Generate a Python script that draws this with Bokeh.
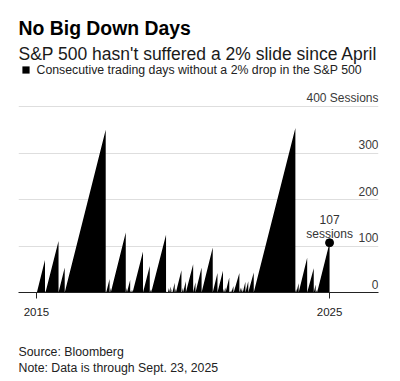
import pandas as pd
from bokeh.plotting import figure
from bokeh.layouts import column
from bokeh.models import (ColumnDataSource, Range1d, FixedTicker, DatetimeTickFormatter,
                          Label, Legend, LegendItem)
from bokeh.embed import file_html
from bokeh.resources import INLINE
from bokeh.core.properties import value

# ---- data: streaks of trading days without a 2% drop (start, end, length at end) ----
streak_start = [
    "2015-09-28", "2016-01-07", "2016-01-13", "2016-06-24", "2016-09-09",
    "2018-02-05", "2018-02-08", "2018-03-23", "2018-04-06", "2018-10-10",
    "2018-10-24", "2018-12-04", "2018-12-07", "2018-12-17", "2018-12-24",
    "2019-01-03", "2019-05-13", "2019-08-05", "2019-08-14", "2019-08-23",
    "2020-02-27", "2020-03-05", "2020-03-18", "2020-04-01", "2020-04-21",
    "2020-05-13", "2020-06-11", "2020-06-26", "2020-09-08", "2020-09-23",
    "2020-10-28", "2021-01-27", "2021-02-25", "2021-05-12", "2021-09-28",
    "2021-11-26", "2022-02-03", "2022-02-17", "2022-03-07", "2022-04-22",
    "2022-04-29", "2022-05-09", "2022-05-18", "2022-06-16", "2022-08-26",
    "2022-09-13", "2022-09-29", "2022-10-07", "2022-11-09", "2022-12-15",
    "2023-02-21", "2024-07-24", "2024-08-05", "2024-09-03", "2024-12-18",
    "2025-03-10", "2025-04-04", "2025-04-10", "2025-04-21",
]
streak_end = [
    "2016-01-07", "2016-01-13", "2016-06-24", "2016-09-09", "2018-02-02",
    "2018-02-08", "2018-03-22", "2018-04-06", "2018-10-10", "2018-10-24",
    "2018-12-04", "2018-12-07", "2018-12-17", "2018-12-24", "2019-01-03",
    "2019-05-13", "2019-08-05", "2019-08-14", "2019-08-23", "2020-02-24",
    "2020-03-03", "2020-03-09", "2020-04-01", "2020-04-21", "2020-05-01",
    "2020-06-11", "2020-06-24", "2020-09-03", "2020-09-23", "2020-10-28",
    "2021-01-27", "2021-02-25", "2021-05-12", "2021-09-28", "2021-11-26",
    "2022-02-03", "2022-02-17", "2022-03-07", "2022-04-22", "2022-04-26",
    "2022-05-05", "2022-05-17", "2022-06-13", "2022-08-26", "2022-09-13",
    "2022-09-29", "2022-10-07", "2022-11-09", "2022-12-15", "2023-02-21",
    "2024-07-24", "2024-08-05", "2024-09-03", "2024-12-18", "2025-03-10",
    "2025-04-03", "2025-04-10", "2025-04-21", "2025-09-23",
]
streak_peak = [
    70, 4, 111, 54, 350,
    3, 29, 10, 129, 10,
    27, 3, 6, 4, 6,
    88, 57, 7, 7, 124,
    3, 2, 10, 13, 8,
    21, 9, 48, 11, 24,
    61, 22, 54, 97, 42,
    47, 9, 11, 32, 3,
    4, 6, 14, 42, 11,
    11, 6, 23, 24, 43,
    354, 8, 20, 75, 52,
    17, 4, 7, 107,
]

grid_values = [0, 100, 200, 300, 400]
grid_labels = ["0", "100", "200", "300", "400 Sessions"]
year_ticks = ["2015-09-23", "2025-09-23"]

FONT = "Liberation Sans"

# sawtooth vertices
xs, ys = [], []
for s, e, v in zip(streak_start, streak_end, streak_peak):
    xs += [s, e, e]
    ys += [0, v, 0]
xs, ys = xs[:-1], ys[:-1]
src = ColumnDataSource(dict(x=pd.to_datetime(xs), y=ys))

x_start = pd.Timestamp("2015-02-11")
x_end = pd.Timestamp("2027-05-26")

p = figure(width=400, height=330, x_axis_type="datetime", y_axis_location=None,
           x_range=Range1d(x_start, x_end), y_range=Range1d(0, 627.96),
           output_backend="svg", toolbar_location=None,
           min_border_left=18, min_border_right=22, min_border_top=0, min_border_bottom=38)
p.outline_line_color = None
p.background_fill_color = "white"
p.border_fill_color = "white"

p.xgrid.visible = False
p.ygrid.ticker = FixedTicker(ticks=grid_values)
p.ygrid.grid_line_color = "#dedede"
p.ygrid.grid_line_width = 1

area = p.varea(x="x", y1=0, y2="y", source=src, fill_color="black")

# x axis
p.xaxis.ticker = FixedTicker(ticks=[pd.Timestamp(t).value / 1e6 for t in year_ticks])
fmt = "%Y"
p.xaxis.formatter = DatetimeTickFormatter(years=fmt, months=fmt, days=fmt, hours=fmt,
                                          hourmin=fmt, minutes=fmt, minsec=fmt, seconds=fmt,
                                          milliseconds=fmt, microseconds=fmt)
p.xaxis.axis_line_color = "#222222"
p.xaxis.major_tick_line_color = "#222222"
p.xaxis.major_tick_out = 6
p.xaxis.major_tick_in = 0
p.xaxis.minor_tick_line_color = None
p.xaxis.major_label_standoff = 9
p.xaxis.major_label_text_font = FONT
p.xaxis.major_label_text_font_size = "11.5px"
p.xaxis.major_label_text_color = "#222222"

# y tick labels drawn inside the plot, above grid lines
p.text(x=[x_end] * len(grid_values), y=grid_values, text=grid_labels,
       text_align="right", text_baseline="alphabetic", y_offset=-8.5,
       text_font=value(FONT), text_font_size="12px", text_color="#3a3a3a")

# last value marker
last_x = pd.Timestamp(streak_end[-1])
last_v = streak_peak[-1]
p.scatter(x=[last_x], y=[last_v], size=8, color="black")
p.text(x=[last_x], y=[last_v], text=[str(last_v)], text_align="center",
       text_baseline="alphabetic", y_offset=-23.4,
       text_font=value(FONT), text_font_size="12px", text_color="#333333")
p.text(x=[last_x], y=[last_v], text=["sessions"], text_align="center",
       text_baseline="alphabetic", y_offset=-8.4,
       text_font=value(FONT), text_font_size="12px", text_color="#333333")

# legend
legend = Legend(items=[LegendItem(label="Consecutive trading days without a 2% drop in the S&P 500",
                                  renderers=[area])],
                location=(2.5, 215.5), orientation="horizontal", padding=0, margin=0,
                border_line_color=None, background_fill_alpha=0,
                glyph_width=9, glyph_height=9, label_height=9, label_standoff=7, spacing=0,
                label_text_font=FONT, label_text_font_size="12.3px", label_text_color="#222222")
p.add_layout(legend, "center")


def add_label(fig, text, x, y, size, style="normal", color="#222222"):
    fig.add_layout(Label(x=x, y=y, x_units="screen", y_units="screen", text=text,
                         text_font=FONT, text_font_size=size, text_font_style=style,
                         text_color=color, text_baseline="alphabetic", text_align="left"))


add_label(p, "No Big Down Days", 0, 264.7, "19.4px", "bold", "#000000")
add_label(p, "S&P 500 hasn't suffered a 2% slide since April", 0, 238.7, "17.5px", "normal", "#1a1a1a")

# footer with source and note (its frame is aligned with the chart frame by the column)
q = figure(width=400, height=51, x_axis_location=None, y_axis_location=None,
           x_range=Range1d(0, 1), y_range=Range1d(0, 1),
           output_backend="svg", toolbar_location=None,
           min_border_left=0, min_border_right=0, min_border_top=0, min_border_bottom=0)
q.outline_line_color = None
q.xgrid.visible = False
q.ygrid.visible = False
add_label(q, "Source: Bloomberg", 0, 29.3, "12.3px")
add_label(q, "Note: Data is through Sept. 23, 2025", 0, 14, "12.3px")

layout = column(p, q, spacing=0)
open("out.html", "w").write(file_html(layout, INLINE))
